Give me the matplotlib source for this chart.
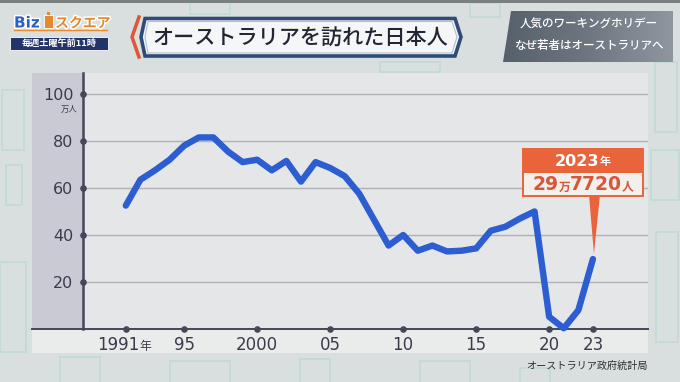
import matplotlib
matplotlib.use("Agg")
import matplotlib.pyplot as plt
from matplotlib.patches import Rectangle, Polygon
import matplotlib.patheffects as pe
import numpy as np

plt.rcParams['font.family'] = ['Noto Sans CJK JP', 'DejaVu Sans']

# ---------------- data ----------------
years = list(range(1991, 2024))
visitors = [52.5, 63.5, 67.5, 72.0, 78.0, 81.5, 81.5, 75.5, 71.0, 72.0,
            67.5, 71.5, 62.7, 71.0, 68.5, 65.0, 57.5, 46.5, 35.5, 40.0,
            33.3, 35.5, 33.0, 33.3, 34.3, 41.8, 43.5, 47.0, 50.0, 5.2,
            0.3, 8.0, 29.77]
y_ticks = [20, 40, 60, 80, 100]
x_ticks = [1991, 1995, 2000, 2005, 2010, 2015, 2020, 2023]
x_tick_labels = ["1991", "95", "2000", "05", "10", "15", "20", "23"]
y_unit = "万人"
title = "オーストラリアを訪れた日本人"
subtitle_lines = ["人気のワーキングホリデー", "なぜ若者はオーストラリアへ"]
source = "オーストラリア政府統計局"
callout_year = "2023"
callout_parts = ["29", "万", "7720", "人"]
logo_left, logo_right = "Biz", "スクエア"
schedule = "毎週土曜午前11時"

W, H = 680, 382
fig = plt.figure(figsize=(W / 100, H / 100), dpi=100, facecolor='#D9DEDE')
renderer = fig.canvas.get_renderer()

# background layer (pixel coordinates)
bg = fig.add_axes([0, 0, 1, 1], zorder=0)
bg.set_xlim(0, W); bg.set_ylim(H, 0); bg.axis('off')

teal = '#A6D5CD'
for (x, y, w, h) in [(2, 90, 22, 60), (6, 165, 16, 40), (0, 262, 26, 90),
                     (655, 62, 22, 70), (651, 150, 28, 50), (656, 232, 22, 110),
                     (60, 357, 40, 26), (170, 361, 60, 22), (300, 359, 30, 24),
                     (420, 361, 50, 22), (520, 368, 30, 20), (190, 2, 40, 12),
                     (380, 62, 60, 10), (470, 3, 30, 14)]:
    bg.add_patch(Rectangle((x, y), w, h, fill=False, edgecolor=teal, lw=1.3, alpha=0.45))
bg.add_patch(Rectangle((0, 0), W, 3, facecolor='#7A7F82', edgecolor='none'))

# chart panel
bg.add_patch(Rectangle((32, 73), 616, 280, facecolor='#E5E6E8', edgecolor='none'))
bg.add_patch(Rectangle((32, 73), 51, 256, facecolor='#CACAD5', edgecolor='none'))
bg.add_patch(Rectangle((32, 329), 616, 24, facecolor='#EAEBEB', edgecolor='none'))

# ---------------- main axes ----------------
ax = fig.add_axes([83.3 / W, (H - 329) / H, (647.7 - 83.3) / W, (329 - 73) / H], zorder=2)
ax.patch.set_alpha(0)
ax.set_xlim(1988.09, 2026.75)
ax.set_ylim(0, 108.9)
for s in ['top', 'right']:
    ax.spines[s].set_visible(False)
axis_col = '#44465A'
ax.spines['left'].set_color(axis_col); ax.spines['left'].set_linewidth(1.8)
ax.spines['bottom'].set_color(axis_col); ax.spines['bottom'].set_linewidth(1.4)
for yt in y_ticks:
    ax.axhline(yt, color='#B0B0B5', lw=1.0, zorder=1)

ax.plot(years, visitors, color='#2C5ED2', lw=4.6, solid_joinstyle='round',
        solid_capstyle='round', zorder=4, clip_on=False)

ax.set_yticks(y_ticks)
ax.set_yticklabels([str(v) for v in y_ticks], fontfamily='DejaVu Sans',
                   fontsize=11.5, color='#3A3B4D')
ax.tick_params(axis='y', length=0, pad=7)
ax.set_xticks([])
ax.scatter([0] * len(y_ticks), y_ticks, transform=ax.get_yaxis_transform(),
           s=14, color=axis_col, zorder=5, clip_on=False)
ax.scatter(x_ticks, [0] * len(x_ticks), transform=ax.get_xaxis_transform(),
           s=14, color=axis_col, zorder=5, clip_on=False)
ax.annotate(y_unit, xy=(0, y_ticks[-1]), xycoords=ax.get_yaxis_transform(),
            xytext=(-10, -11), textcoords='offset points', ha='center', va='center',
            fontsize=6, color='#3A3B4D')

# overlay layer (pixel coordinates)
ov = fig.add_axes([0, 0, 1, 1], zorder=3)
ov.set_xlim(0, W); ov.set_ylim(H, 0); ov.axis('off')
ov.plot([32, 84], [329, 329], color=axis_col, lw=1.4)


def to_px(x, y):
    dx, dy = ax.transData.transform((x, y))
    return dx, H - dy


def draw_parts(parts, cx, base_y):
    texts, widths = [], []
    for s, fs, kw in parts:
        t = ov.text(0, base_y, s, fontsize=fs, va='baseline', ha='left', **kw)
        bb = t.get_window_extent(renderer)
        texts.append(t); widths.append(bb.width)
    x = cx - sum(widths) / 2
    for t, w in zip(texts, widths):
        t.set_x(x); x += w


# x tick labels
lab_col = '#3A3B4D'
for xt, lab in zip(x_ticks, x_tick_labels):
    px, _ = to_px(xt, 0)
    if xt == x_ticks[0]:
        ov.text(px + 14, 350, lab, fontsize=12, ha='right', va='baseline',
                color=lab_col, fontfamily='DejaVu Sans')
        ov.text(px + 14, 350, "年", fontsize=8.5, ha='left', va='baseline', color=lab_col)
    else:
        ov.text(px, 350, lab, fontsize=12, ha='center', va='baseline',
                color=lab_col, fontfamily='DejaVu Sans')

ov.text(648, 366, source, fontsize=7.3, ha='right', va='center', color='#2E2E33')

# ---------------- callout ----------------
orange = '#E9643B'
bx0, bx1, by0, bmid, by1 = 522.7, 643.3, 149.3, 171.7, 195.7
lx, ly = to_px(years[-1], visitors[-1])
ov.add_patch(Polygon([(589, by1 - 1), (600, by1 - 1), (lx + 1, ly - 5)],
                     closed=True, facecolor=orange, edgecolor='none'))
ov.add_patch(Rectangle((bx0, bmid), bx1 - bx0, by1 - bmid, facecolor='#F3F0EC',
                       edgecolor=orange, lw=1.4))
ov.add_patch(Rectangle((bx0, by0), bx1 - bx0, bmid - by0, facecolor=orange, edgecolor=orange, lw=1.4))
draw_parts([(callout_year, 11.5, dict(color='white', fontweight='bold', fontfamily='DejaVu Sans')),
            ("年", 8, dict(color='white', fontweight='bold'))], (bx0 + bx1) / 2, 165.5)
val_col = '#D8553A'
draw_parts([(callout_parts[0], 13.5, dict(color=val_col, fontweight='bold', fontfamily='DejaVu Sans')),
            (callout_parts[1], 8.5, dict(color=val_col, fontweight='bold')),
            (callout_parts[2], 13.5, dict(color=val_col, fontweight='bold', fontfamily='DejaVu Sans')),
            (callout_parts[3], 8.5, dict(color=val_col, fontweight='bold'))],
           (bx0 + bx1) / 2, 190.5)

# ---------------- header ----------------
red = '#E0553A'
ov.plot([139, 132, 139], [17, 37, 57], color=red, lw=2.5, solid_joinstyle='miter')
ov.add_patch(Polygon([(141, 37), (145, 18.5), (455, 18.5), (461, 37), (455, 56), (145, 56)],
                     closed=True, facecolor='#F5F6F7', edgecolor='#2F4B78', lw=2.6))
ov.add_patch(Polygon([(145, 37), (148, 21.5), (452, 21.5), (457, 37), (452, 53), (148, 53)],
                     closed=True, facecolor='none', edgecolor='#AFC0D4', lw=0.8))
ov.text(300, 38.5, title, fontsize=15.2, ha='center', va='center', color='#222634',
        fontweight='medium')

# right subtitle box with gradient
grad = np.linspace(0, 1, 256).reshape(1, -1)
im = ov.imshow(grad, extent=(503, 673, 62, 11), cmap=matplotlib.colors.LinearSegmentedColormap.from_list(
    'g', ['#56606B', '#6E7781', '#8E969E']), aspect='auto', zorder=1)
clip = Polygon([(511, 11), (673, 11), (673, 62), (503, 62), (507, 37)], closed=True,
               transform=ov.transData)
im.set_clip_path(clip)
for i, line in enumerate(subtitle_lines):
    ov.text(589, 24.5 + i * 21.5, line, fontsize=8.3, ha='center', va='center',
            color='white', fontweight='medium', zorder=2)

# logo
ov.text(14, 27.5, logo_left, fontsize=11, fontweight='bold', color='#2B5FC8',
        va='baseline', ha='left', fontfamily='DejaVu Sans',
        path_effects=[pe.withStroke(linewidth=2.2, foreground='white')])
ov.add_patch(Rectangle((44, 15), 9, 13, facecolor='#E5892E', edgecolor='white', lw=0.6))
ov.add_patch(Rectangle((47, 12), 3, 3, facecolor='#E5892E', edgecolor='none'))
ov.text(55, 27.5, logo_right, fontsize=10, fontweight='bold', color='#E8892C',
        va='baseline', ha='left',
        path_effects=[pe.withStroke(linewidth=2.2, foreground='white')])
ov.plot([14, 107], [30, 30], color='#E8892C', lw=1.0)
ov.add_patch(Rectangle((10, 36.5), 98, 13, facecolor='#23346B', edgecolor='white', lw=0.6))
ov.text(59, 43.3, schedule, fontsize=6.6, fontweight='bold', color='white',
        ha='center', va='center')

fig.savefig('out.png', dpi=100, facecolor=fig.get_facecolor())
